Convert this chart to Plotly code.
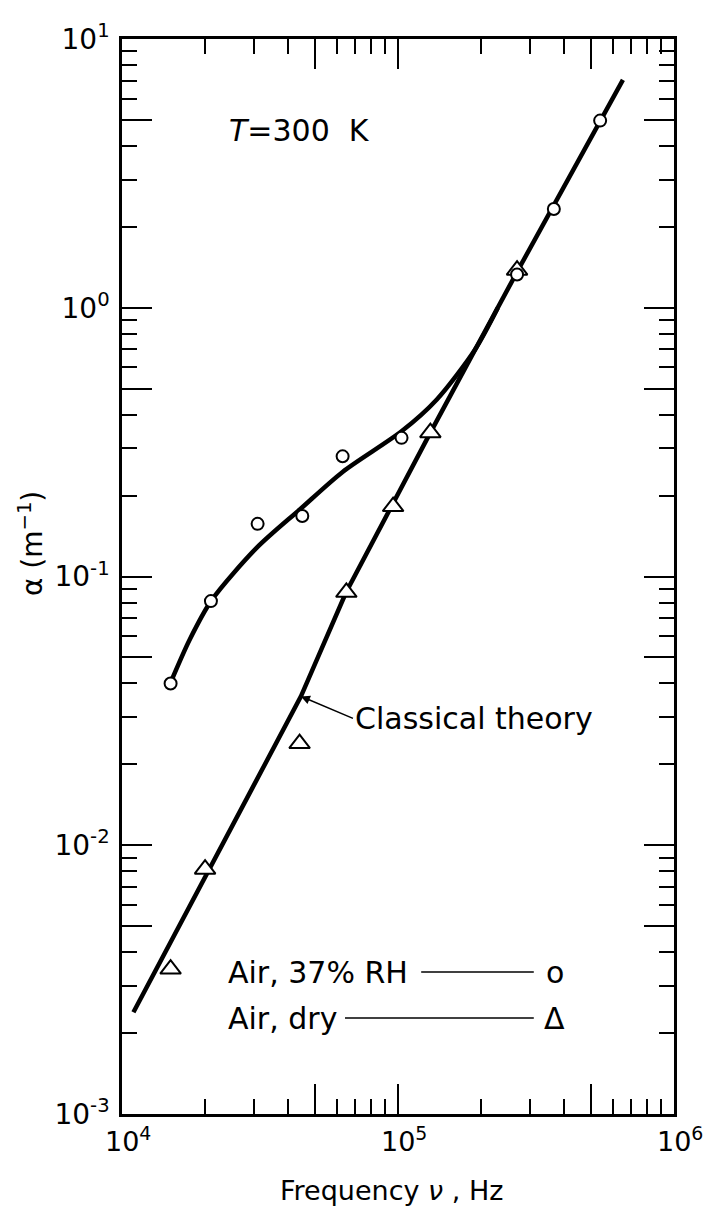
import numpy as np
import plotly.graph_objects as go

# Air, 37% RH (open circles)
rh_freq = [1.5e4, 2.1e4, 3.1e4, 4.5e4, 6.3e4, 1.03e5, 2.7e5, 3.67e5, 5.4e5]
rh_alpha = [0.040, 0.081, 0.157, 0.168, 0.280, 0.328, 1.33, 2.33, 4.97]

# Air, dry (open triangles)
dry_freq = [1.5e4, 2.0e4, 4.4e4, 6.5e4, 9.6e4, 1.31e5, 2.7e5]
dry_alpha = [3.46e-3, 8.15e-3, 0.0239, 0.0873, 0.182, 0.343, 1.38]

# hand-drawn curve through the humid-air points
rh_curve_freq = [1.5e4, 1.76e4, 2.11e4, 3.08e4, 4.42e4, 6.3e4, 1.03e5, 1.38e5, 1.9e5, 2.3e5]
rh_curve_alpha = [0.0403, 0.0583, 0.0815, 0.128, 0.178, 0.245, 0.347, 0.455, 0.698, 1.0]

# classical theory line
classical_freq = [1.1e4, 4.45e4, 6.48e4, 1.31e5, 2.7e5, 6.53e5]
classical_alpha = [2.39e-3, 0.0358, 0.0872, 0.343, 1.36, 7.04]

# tick values
x_decades = [1e4, 1e5, 1e6]
x_decade_text = ["10<sup>4</sup>", "10<sup>5</sup>", "10<sup>6</sup>"]
x_major = [1e4, 5e4, 1e5, 5e5, 1e6]
x_minor = [m * 10 ** k for k in (4, 5) for m in (2, 3, 4, 6, 7, 8, 9)]
y_major = [1e-3, 5e-3, 1e-2, 5e-2, 1e-1, 5e-1, 1e0, 5e0, 1e1]
y_major_text = ["10<sup>-3</sup>", "", "10<sup>-2</sup>", "", "10<sup>-1</sup>", "",
                "10<sup>0</sup>", "", "10<sup>1</sup>"]
y_minor = [m * 10 ** k for k in (-3, -2, -1, 0) for m in (2, 3, 4, 6, 7, 8, 9)]

FONT = "DejaVu Sans"

fig = go.Figure()

fig.add_trace(go.Scatter(
    x=classical_freq, y=classical_alpha, mode="lines",
    line=dict(color="black", width=4.5), hoverinfo="skip"
))
fig.add_trace(go.Scatter(
    x=rh_curve_freq, y=rh_curve_alpha, mode="lines",
    line=dict(color="black", width=4.5, shape="spline", smoothing=0.8), hoverinfo="skip"
))
fig.add_trace(go.Scatter(
    x=dry_freq, y=dry_alpha, mode="markers",
    marker=dict(symbol="triangle-up", size=18, color="white",
                line=dict(color="black", width=2))
))
fig.add_trace(go.Scatter(
    x=rh_freq, y=rh_alpha, mode="markers",
    marker=dict(symbol="circle", size=12, color="white",
                line=dict(color="black", width=2))
))

axis_common = dict(
    type="log", showline=True, linecolor="black", linewidth=2.5, mirror="ticks",
    ticks="inside", ticklen=30, tickwidth=2, tickcolor="black",
    showgrid=False, zeroline=False, automargin=False,
    tickfont=dict(family=FONT, size=28, color="black"),
)

fig.update_xaxes(
    range=[4, 6], tickvals=x_major, showticklabels=False,
    minor=dict(tickvals=x_minor, ticks="inside", ticklen=15, tickwidth=2,
               tickcolor="black", showgrid=False),
    **axis_common
)
fig.update_yaxes(
    range=[-3, 1], tickvals=y_major, ticktext=y_major_text,
    minor=dict(tickvals=y_minor, ticks="inside", ticklen=15, tickwidth=2,
               tickcolor="black", showgrid=False),
    ticklabelstandoff=4, **axis_common
)

txt = dict(family=FONT, size=30, color="black")

annotations = [
    dict(x=0.19, y=0.915, xref="paper", yref="paper", xanchor="left", yanchor="middle",
         text="<i>T</i>=300  K", showarrow=False, font=txt),
    dict(x=np.log10(classical_freq[1]), y=np.log10(classical_alpha[1]),
         xref="x", yref="y", text="Classical theory", showarrow=True,
         ax=52, ay=22, xanchor="left", yanchor="middle", arrowhead=2, arrowsize=1.2,
         arrowwidth=1.5, arrowcolor="black", font=txt),
    dict(x=0.188, y=0.132, xref="paper", yref="paper", xanchor="left", yanchor="middle",
         text="Air, 37% RH", showarrow=False, font=txt),
    dict(x=0.784, y=0.132, xref="paper", yref="paper", xanchor="center", yanchor="middle",
         text="o", showarrow=False, font=txt),
    dict(x=0.188, y=0.0893, xref="paper", yref="paper", xanchor="left", yanchor="middle",
         text="Air, dry", showarrow=False, font=txt),
    dict(x=0.784, y=0.0893, xref="paper", yref="paper", xanchor="center", yanchor="middle",
         text="Δ", showarrow=False, font=txt),
    dict(x=-0.165, y=0.531, xref="paper", yref="paper", xanchor="center", yanchor="middle",
         textangle=-90, text="α (m<sup>−1</sup>)", showarrow=False,
         font=dict(family=FONT, size=28, color="black")),
    dict(x=0.489, y=-0.071, xref="paper", yref="paper", xanchor="center", yanchor="middle",
         text="Frequency <i>ν</i> , Hz", showarrow=False,
         font=dict(family=FONT, size=27, color="black")),
]

# decade labels under the x axis: the "10" is centred on its tick, exponent hangs right
for xv, lab in zip(x_decades, x_decade_text):
    annotations.append(dict(
        x=np.log10(xv), y=0, xref="x", yref="paper", xanchor="left", yanchor="top",
        xshift=-19, yshift=-6, text=lab, showarrow=False,
        font=dict(family=FONT, size=27, color="black")))

shapes = [
    dict(type="line", xref="paper", yref="paper", x0=0.542, x1=0.746, y0=0.132, y1=0.132,
         line=dict(color="black", width=1.5)),
    dict(type="line", xref="paper", yref="paper", x0=0.404, x1=0.746, y0=0.0893, y1=0.0893,
         line=dict(color="black", width=1.5)),
]

# the page body adds an 8px margin, so the figure is sized to fit inside it
fig.update_layout(
    width=695, height=1200,
    margin=dict(l=114, r=29, t=31, b=94),
    paper_bgcolor="white", plot_bgcolor="white",
    showlegend=False,
    annotations=annotations, shapes=shapes,
)

fig.write_html("out.html")
